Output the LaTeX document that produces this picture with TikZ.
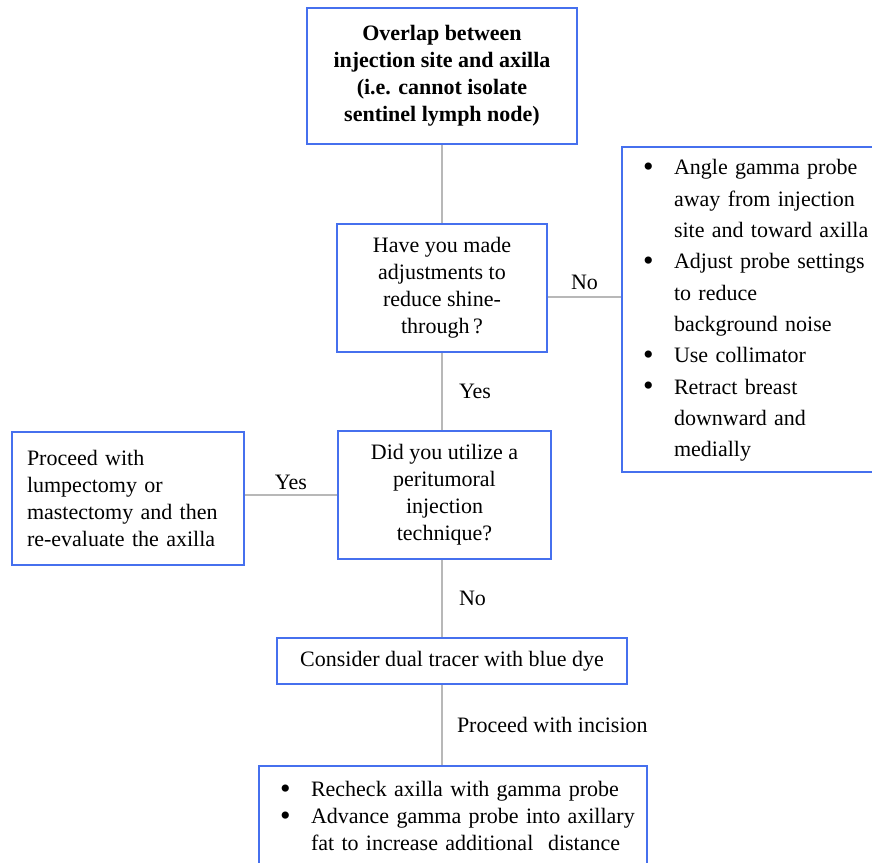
\documentclass[tikz,border=0pt]{standalone}
\usepackage{fontspec}
\setmainfont{Liberation Serif}
\usepackage{xcolor}
\usepackage{tikz}
\usetikzlibrary{positioning, calc}
\definecolor{boxblue}{RGB}{70,112,238}
\definecolor{linegray}{RGB}{184,184,184}
\newcommand{\bfont}{\fontsize{11}{13.5}\selectfont}
\newcommand{\bigbul}{{\fontsize{15}{15}\selectfont\raisebox{-0.8pt}{\textbullet}}}

\begin{document}
\begin{tikzpicture}[
  x=0.5pt, y=-0.5pt,
  font=\bfont,
  every node/.style={text=black},
  bx/.style={rectangle, draw=boxblue, line width=1pt, inner sep=0pt,
             align=center, font=\bfont},
  ln/.style={draw=linegray, line width=1pt},
  el/.style={font=\bfont, text=black, inner sep=1pt}
]
\clip (0,0) rectangle (872,862);

%  Question layer
\node[bx, minimum width=135pt, minimum height=68pt] (ovl) at (442,76)
      {\bfseries Overlap between\\ \bfseries injection site and axilla\\
       \bfseries (i.e. cannot isolate\\ \bfseries sentinel lymph node)};
\node[bx, minimum width=105pt, minimum height=64pt] (adj) at (442,288)
      {Have you made\\ adjustments to\\ reduce shine-\\ through\,?};
\node[bx, minimum width=106.5pt, minimum height=64pt] (peri) at (444.5,495)
      {Did you utilize a\\ peritumoral\\ injection\\ technique?};

%  Side boxes
\node[bx, minimum width=126.5pt, minimum height=162.5pt,
      text width=105.5pt, align=left,
      font=\fontsize{11}{15.65}\selectfont] (tips) at (748.5,309.5)
      {\begin{tabular}{@{}p{15.5pt}@{}l@{}}
       \bigbul & Angle gamma probe\\
               & away from injection\\
               & site and toward axilla\\
       \bigbul & Adjust probe settings\\
               & to reduce\\
               & background noise\\
       \bigbul & Use collimator\\
       \bigbul & Retract breast\\
               & downward and\\
               & medially
       \end{tabular}};
\node[bx, minimum width=116pt, minimum height=66.5pt,
      text width=101pt, align=left] (lump) at (128,498.5)
      {Proceed with\\ lumpectomy or\\ mastectomy and then\\ re-evaluate the axilla};

%  Final steps
\node[bx, minimum width=175pt, minimum height=23pt] (dual) at (452,661)
      {Consider dual tracer with blue dye};
\node[bx, minimum width=194pt, minimum height=52pt,
      text width=173pt, align=left] (rechk) at (453,818)
      {\begin{tabular}{@{}p{15.5pt}@{}l@{}}
       \bigbul & Recheck axilla with gamma probe\\
       \bigbul & Advance gamma probe into axillary\\
               & fat to increase additional\ \ distance
       \end{tabular}};

%  Connections
\draw[ln] (ovl) -- (adj);
\draw[ln] ([yshift=-4.5pt]adj.east) -- node[el, above=2pt]{No}
          ([yshift=-4.5pt]adj.east -| tips.west);
\draw[ln] (adj.south) -- node[el, right=7pt]{Yes} (adj.south |- peri.north);
\draw[ln] (peri.west) -- node[el, above=1pt]{Yes} (peri.west -| lump.east);
\draw[ln] (peri.south -| adj) -- node[el, right=7pt]{No} (dual.north -| adj);
\draw[ln] (dual.south -| adj) -- node[el, right=6pt]{Proceed with incision}
          (rechk.north -| adj);
\end{tikzpicture}
\end{document}
